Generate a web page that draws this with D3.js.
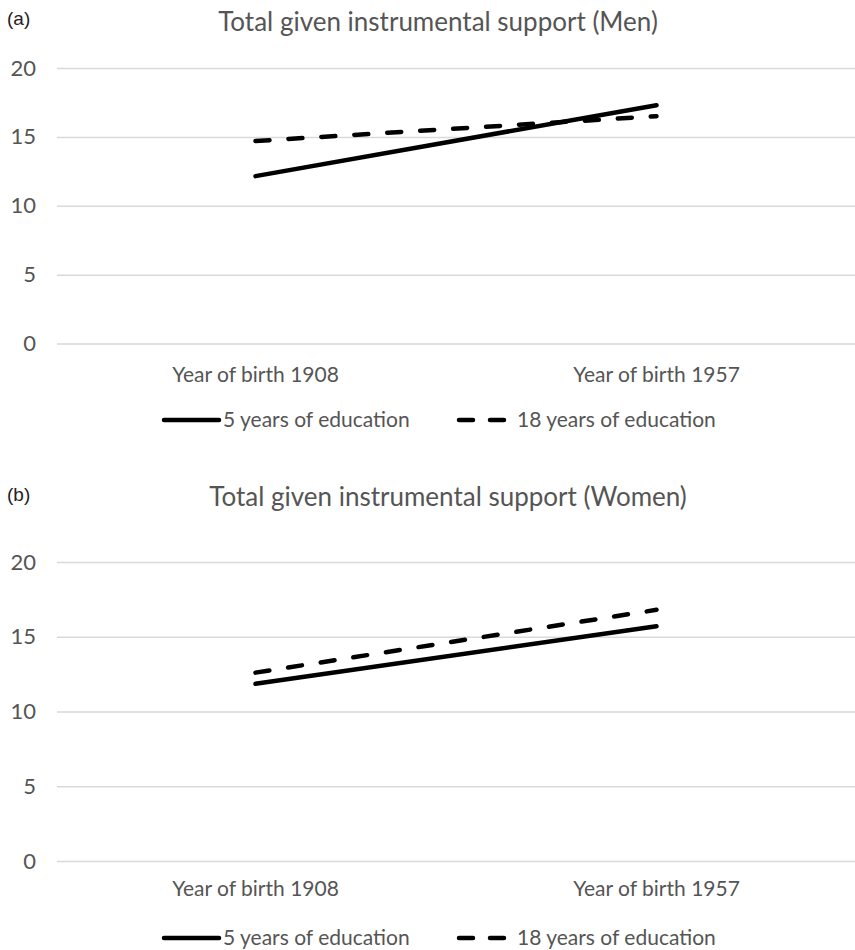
<!DOCTYPE html>
<html>
<head>
<meta charset="utf-8">
<script src="https://cdn.jsdelivr.net/npm/d3@7"></script>
<style>
  html, body { margin: 0; padding: 0; background: #fff; }
  svg { display: block; }
</style>
</head>
<body>
<svg id="chart" width="855" height="950"></svg>
<script>
// ── Data ─────────────────────────────────────────────
const categories  = ['Year of birth 1908', 'Year of birth 1957'];
const seriesNames = ['5 years of education', '18 years of education'];
const yTicks      = [0, 5, 10, 15, 20];

const menLowEdu    = [12.15, 17.3];
const menHighEdu   = [14.7, 16.5];
const womenLowEdu  = [11.85, 15.7];
const womenHighEdu = [12.6, 16.8];

// ── Style ────────────────────────────────────────────
const FONT      = 'Lato, "Open Sans", sans-serif';
const TEXT_GREY = '#555';
const GRID_GREY = '#d9d9d9';
const DASH      = '14,19';

const svg = d3.select('#chart');

function drawPanel(cfg) {
  const g = svg.append('g');

  const x = d3.scaleBand()
    .domain(categories)
    .range([55, 857]);

  const y = d3.scaleLinear()
    .domain([0, 20])
    .range([cfg.y0, cfg.y20]);

  // panel letter
  g.append('text')
    .attr('x', 7).attr('y', cfg.letterY)
    .attr('font-family', '"Liberation Sans", Arial, sans-serif')
    .attr('font-size', 19)
    .attr('fill', '#222')
    .text(cfg.letter);

  // title
  g.append('text')
    .attr('x', cfg.titleX).attr('y', cfg.titleY)
    .attr('text-anchor', 'middle')
    .attr('font-family', FONT)
    .attr('font-size', 26)
    .attr('fill', TEXT_GREY)
    .text(cfg.title);

  // gridlines + y labels
  g.append('g')
    .attr('transform', 'translate(57,0)')
    .call(d3.axisLeft(y).tickValues(yTicks).tickSize(-798).tickPadding(21).tickFormat(d3.format('d')))
    .call(ax => {
      ax.select('.domain').remove();
      ax.selectAll('line').attr('stroke', GRID_GREY).attr('stroke-width', 1.5);
      ax.selectAll('text')
        .attr('fill', TEXT_GREY)
        .attr('font-family', FONT)
        .attr('font-size', 22);
    });

  // category labels
  g.append('g')
    .attr('transform', `translate(0,${cfg.y0})`)
    .call(d3.axisBottom(x).tickSize(0).tickPadding(cfg.catPad))
    .call(ax => {
      ax.select('.domain').remove();
      ax.selectAll('text')
        .attr('fill', TEXT_GREY)
        .attr('font-family', FONT)
        .attr('font-size', 21);
    });

  // lines
  const line = d3.line()
    .x((d, i) => x(categories[i]) + x.bandwidth() / 2)
    .y(d => y(d));

  g.append('path')
    .attr('d', line(cfg.low))
    .attr('fill', 'none')
    .attr('stroke', '#000')
    .attr('stroke-width', 4.5)
    .attr('stroke-linecap', 'round');

  g.append('path')
    .attr('d', line(cfg.high))
    .attr('fill', 'none')
    .attr('stroke', '#000')
    .attr('stroke-width', 4.5)
    .attr('stroke-linecap', 'round')
    .attr('stroke-dasharray', DASH);

  // legend
  const lg = g.append('g').attr('transform', `translate(0,${cfg.legendY})`);
  lg.append('line')
    .attr('x1', 164).attr('x2', 219).attr('y1', 0).attr('y2', 0)
    .attr('stroke', '#000').attr('stroke-width', 4.5).attr('stroke-linecap', 'round');
  lg.append('text')
    .attr('x', 223).attr('y', 0).attr('dy', '0.35em')
    .attr('font-family', FONT).attr('font-size', 21).attr('fill', TEXT_GREY)
    .text(seriesNames[0]);
  lg.append('line')
    .attr('x1', 459).attr('x2', 506).attr('y1', 0).attr('y2', 0)
    .attr('stroke', '#000').attr('stroke-width', 4.5).attr('stroke-linecap', 'round')
    .attr('stroke-dasharray', '14,17');
  lg.append('text')
    .attr('x', 517).attr('y', 0).attr('dy', '0.35em')
    .attr('font-family', FONT).attr('font-size', 21).attr('fill', TEXT_GREY)
    .text(seriesNames[1]);
}

drawPanel({
  letter: '(a)', letterY: 25,
  title: 'Total given instrumental support (Men)', titleX: 438, titleY: 31,
  y0: 343.5, y20: 68, catPad: 24, legendY: 420,
  low: menLowEdu, high: menHighEdu
});

drawPanel({
  letter: '(b)', letterY: 501,
  title: 'Total given instrumental support (Women)', titleX: 448, titleY: 506,
  y0: 861, y20: 562, catPad: 20, legendY: 938,
  low: womenLowEdu, high: womenHighEdu
});
</script>
</body>
</html>
